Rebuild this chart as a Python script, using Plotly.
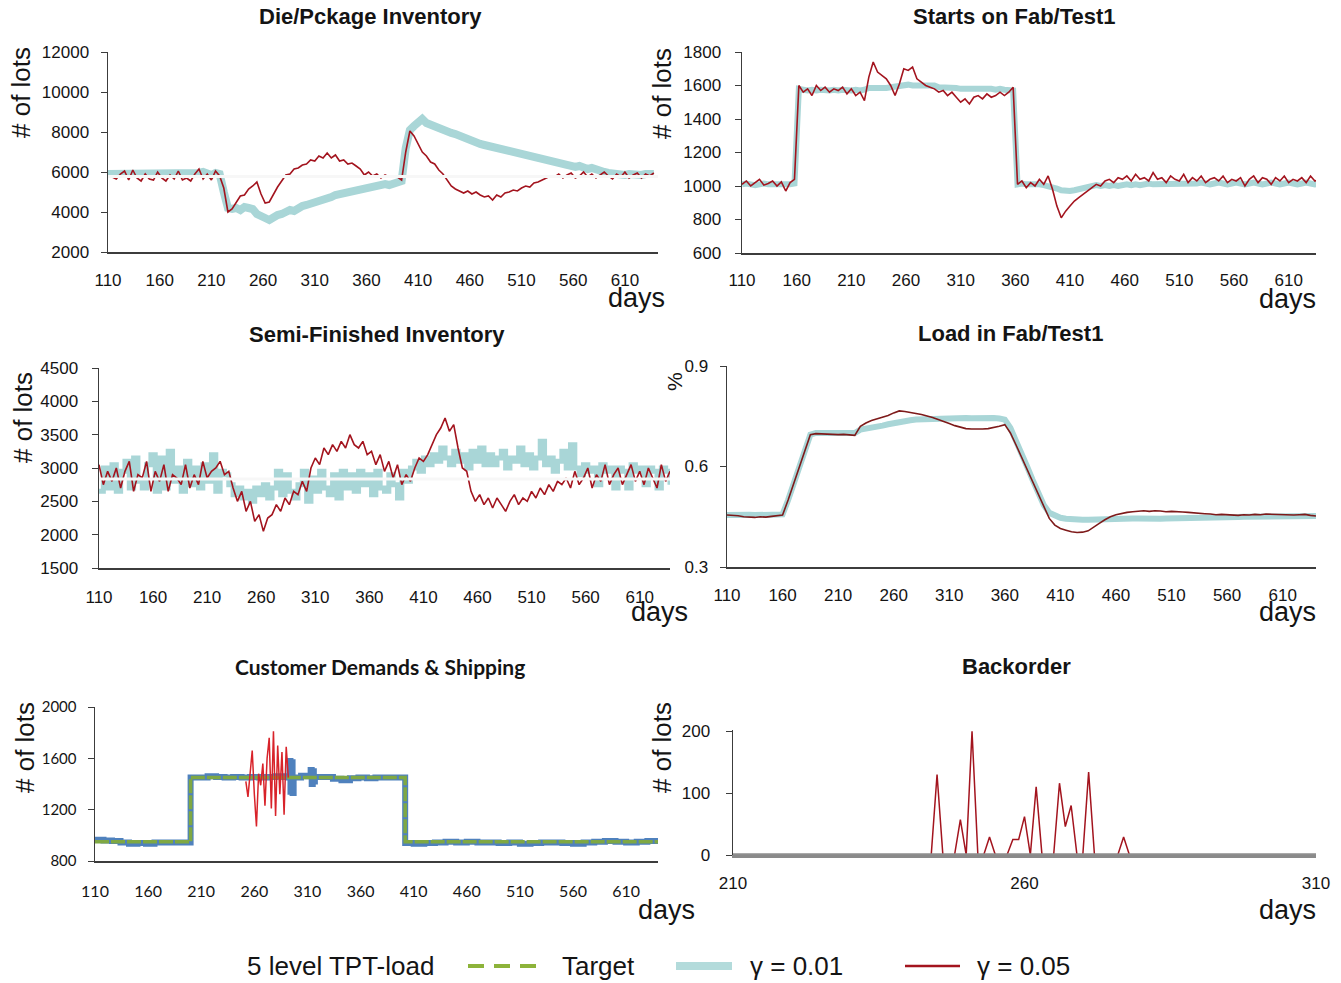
import plotly.graph_objects as go

W, H = 1341, 983

# ---------------- data ----------------
DAYS4 = list(range(110, 641, 4))   # 133 samples, used by the noisy series
DAYS5 = list(range(110, 641, 5))   # 107 samples, used by the load series
BO_DAYS = list(range(210, 311))    # backorder window

# Die / Package inventory (# of lots)
die_g001 = [
    5900, 5900, 5850, 5900, 5950, 5900, 5850, 5900, 5950, 5900,   # 110-146
    5900, 5850, 5900, 5950, 5900, 5900, 5850, 5900, 5950, 5900,   # 150-186
    5900, 5850, 5950, 6000, 5900, 5850, 5950, 5900, 5000, 4200,   # 190-226
    4150, 4200, 4100, 4250, 4200, 4150, 3900, 3750, 3700, 3600,   # 230-266
    3750, 3850, 3900, 4000, 4100, 4050, 4200, 4300, 4350, 4400,   # 270-306
    4500, 4550, 4650, 4700, 4750, 4850, 4900, 4950, 5000, 5050,   # 310-346
    5100, 5150, 5200, 5250, 5250, 5300, 5350, 5400, 5350, 5450,   # 350-386
    5500, 5550, 7200, 8100, 8300, 8500, 8650, 8450, 8350, 8300,   # 390-426
    8200, 8100, 8050, 7950, 7900, 7800, 7750, 7650, 7550, 7500,   # 430-466
    7400, 7350, 7300, 7250, 7150, 7200, 7100, 7000, 6950, 6900,   # 470-506
    6850, 6800, 6750, 6700, 6650, 6600, 6550, 6500, 6450, 6400,   # 510-546
    6350, 6400, 6300, 6250, 6300, 6200, 6150, 6200, 6100, 6050,   # 550-586
    6000, 5950, 5900, 5950, 5900, 5850, 5900, 5850, 5900, 5850,   # 590-626
    5900, 5850, 5900,                                             # 630-638
]
die_g005 = [
    5800, 5750, 5650, 5900, 6050, 5600, 6100, 5700, 5550, 5900,
    5650, 5600, 6000, 5700, 5550, 5850, 5650, 6050, 5600, 5700,
    5550, 5900, 6150, 5650, 5900, 5600, 6050, 5800, 5200, 4000,
    4150, 4500, 4800, 4850, 5150, 5300, 5500, 4900, 4450, 4500,
    4900, 5250, 5550, 5850, 5900, 6150, 6200, 6350, 6400, 6600,
    6550, 6800, 6700, 6950, 6700, 6850, 6550, 6600, 6400, 6450,
    6300, 6150, 5850, 6000, 5800, 5900, 5700, 5850, 5750, 5800,
    5750, 5600, 7000, 8050, 7800, 7400, 7000, 6800, 6500, 6400,
    6100, 5900, 5600, 5300, 5150, 5050, 4950, 5050, 4900, 5000,
    4850, 4750, 4800, 4600, 4850, 4750, 4950, 5000, 5100, 5050,
    5200, 5300, 5250, 5450, 5500, 5600, 5700, 5800, 5750, 5900,
    5700, 5850, 5950, 5700, 5800, 6000, 5750, 5900, 5700, 5850,
    6000, 5800, 5650, 5900, 5750, 6000, 5700, 5850, 5950, 5700,
    5900, 5800, 5950,
]
DIE_TARGET = 5780

# Starts on Fab/Test1 (# of lots)
starts_g001 = [
    1010, 1015, 1010, 1005, 1010, 1015, 1010, 1010, 1005, 1010,
    1010, 1010, 1015, 1580, 1575, 1570, 1575, 1570, 1575, 1570,
    1570, 1575, 1570, 1575, 1570, 1570, 1575, 1570, 1575, 1585,
    1585, 1585, 1580, 1585, 1590, 1595, 1600, 1600, 1605, 1600,
    1600, 1600, 1595, 1600, 1600, 1590, 1590, 1585, 1585, 1585,
    1580, 1580, 1585, 1580, 1580, 1585, 1580, 1580, 1575, 1580,
    1575, 1575, 1570, 1010, 1015, 1010, 1010, 1015, 1010, 1005,
    1000, 995, 985, 975, 970, 970, 975, 980, 985, 995,
    1000, 1005, 1000, 1005, 1000, 1005, 1000, 1005, 1010, 1005,
    1010, 1005, 1010, 1015, 1010, 1010, 1015, 1010, 1015, 1010,
    1015, 1010, 1015, 1010, 1015, 1020, 1015, 1010, 1015, 1020,
    1015, 1010, 1015, 1020, 1015, 1010, 1015, 1020, 1015, 1010,
    1015, 1020, 1015, 1010, 1015, 1020, 1015, 1010, 1015, 1020,
    1015, 1010, 1015,
]
starts_g005 = [
    1010, 1030, 1000, 1020, 1040, 1005, 1015, 1030, 1000, 1025,
    970, 1020, 1040, 1600, 1560, 1580, 1540, 1600, 1570, 1590,
    1560, 1580, 1570, 1590, 1550, 1580, 1540, 1560, 1510, 1650,
    1740, 1680, 1660, 1640, 1600, 1540, 1610, 1700, 1690, 1710,
    1640, 1620, 1600, 1590, 1580, 1560, 1570, 1540, 1560, 1530,
    1500, 1520, 1490, 1530, 1540, 1520, 1550, 1530, 1540, 1560,
    1540, 1560, 1590, 1010, 1030, 990, 1020, 1000, 1040, 1010,
    1060, 980, 880, 810, 850, 880, 910, 930, 950, 970,
    990, 1010, 1000, 1030, 1040, 1020, 1050, 1040, 1060, 1030,
    1070, 1040, 1050, 1030, 1080, 1040, 1050, 1020, 1060, 1040,
    1030, 1070, 1020, 1050, 1030, 1060, 1020, 1040, 1050, 1030,
    1060, 1020, 1040, 1030, 1050, 1000, 1040, 1060, 1020, 1050,
    1040, 1010, 1050, 1030, 1060, 1020, 1040, 1030, 1050, 1020,
    1060, 1030, 1040,
]

# Semi-finished inventory (# of lots)
semi_g001 = [
    2650, 3000, 2700, 3050, 2650, 2950, 3100, 2700, 3150, 2800,
    2700, 3050, 3200, 2650, 3150, 2700, 3250, 2800, 3000, 2650,
    3100, 2750, 3000, 2700, 3050, 2800, 3200, 2650, 2950, 2900,
    2750, 2600, 2700, 2550, 2650, 2500, 2700, 2600, 2750, 2550,
    2700, 2950, 2600, 2900, 2650, 2550, 2750, 2950, 2500, 2850,
    2650, 2950, 2700, 2600, 2900, 2550, 2950, 2700, 2900, 2650,
    2950, 2750, 2900, 2600, 2950, 2700, 2650, 2900, 2750, 2550,
    2950, 2800, 3000, 3100, 2950, 3150, 3050, 3200, 3100, 3300,
    3150, 3050, 3250, 3100, 3200, 3000, 3250, 3100, 3300, 3050,
    3200, 3050, 3150, 3250, 3000, 3150, 3100, 3300, 3050, 3200,
    3000, 3150, 3400, 3050, 3150, 2950, 3100, 3250, 3000, 3350,
    3000, 2900, 3050, 2950, 3000, 2750, 3050, 2950, 3000, 2700,
    3000, 2950, 2700, 3050, 2950, 3000, 2750, 3000, 2950, 2700,
    3000, 2950, 2750,
]
semi_g005 = [
    3050, 2750, 2950, 2800, 3000, 2700, 2950, 3100, 2650, 2900,
    2850, 3100, 2650, 2950, 2800, 3050, 2650, 2900, 2850, 2750,
    3050, 2700, 2900, 2750, 3100, 2850, 2950, 3000, 3100, 2900,
    2950, 2700, 2500, 2650, 2350, 2500, 2200, 2300, 2050, 2250,
    2300, 2450, 2350, 2550, 2450, 2650, 2600, 2800, 2650, 3000,
    3150, 3050, 3300, 3200, 3350, 3250, 3400, 3300, 3500, 3350,
    3300, 3400, 3200, 3250, 3050, 3200, 2950, 3100, 2850, 3050,
    2750, 2900, 2800, 3000, 3150, 3100, 3200, 3350, 3500, 3600,
    3750, 3550, 3650, 3300, 3000, 2950, 2650, 2500, 2600, 2450,
    2550, 2400, 2550, 2450, 2350, 2500, 2600, 2450, 2550, 2500,
    2650, 2550, 2700, 2600, 2750, 2650, 2800, 2750, 2850, 2700,
    2950, 2750, 2850, 3000, 2700, 2900, 2800, 3050, 2750, 2900,
    3000, 2750, 2900, 3050, 2800, 2950, 2750, 3000, 2850, 2700,
    3050, 2800, 2950,
]
SEMI_TARGET = 2835

# Load in Fab/Test1 (fraction)
load_g001 = [
    0.455, 0.456, 0.455, 0.455, 0.456, 0.455, 0.455, 0.456, 0.455, 0.456,   # 110-155
    0.457, 0.500, 0.550, 0.600, 0.650, 0.695, 0.700, 0.700, 0.701, 0.700,   # 160-205
    0.700, 0.701, 0.700, 0.700, 0.710, 0.712, 0.716, 0.718, 0.722, 0.726,   # 210-255
    0.730, 0.733, 0.736, 0.738, 0.740, 0.741, 0.742, 0.743, 0.744, 0.744,   # 260-305
    0.745, 0.745, 0.745, 0.745, 0.744, 0.745, 0.745, 0.744, 0.745, 0.743,   # 310-355
    0.740, 0.715, 0.680, 0.640, 0.600, 0.560, 0.520, 0.485, 0.462, 0.452,   # 360-405
    0.447, 0.444, 0.442, 0.441, 0.441, 0.441, 0.442, 0.442, 0.443, 0.443,   # 410-455
    0.444, 0.444, 0.444, 0.445, 0.445, 0.444, 0.444, 0.445, 0.444, 0.445,   # 460-505
    0.445, 0.445, 0.446, 0.446, 0.446, 0.447, 0.447, 0.447, 0.448, 0.448,   # 510-555
    0.448, 0.449, 0.449, 0.450, 0.450, 0.450, 0.450, 0.451, 0.451, 0.451,   # 560-605
    0.451, 0.451, 0.452, 0.452, 0.452, 0.452, 0.452,                        # 610-640
]
load_g005 = [
    0.455, 0.455, 0.453, 0.450, 0.449, 0.448, 0.450, 0.449, 0.451, 0.453,
    0.455, 0.500, 0.550, 0.600, 0.650, 0.695, 0.698, 0.697, 0.696, 0.697,
    0.695, 0.696, 0.694, 0.693, 0.720, 0.730, 0.737, 0.742, 0.746, 0.752,
    0.760, 0.766, 0.764, 0.760, 0.758, 0.755, 0.751, 0.746, 0.740, 0.733,
    0.728, 0.722, 0.717, 0.713, 0.712, 0.711, 0.712, 0.713, 0.716, 0.720,
    0.725, 0.700, 0.665, 0.628, 0.590, 0.553, 0.515, 0.478, 0.445, 0.425,
    0.415, 0.410, 0.405, 0.403, 0.404, 0.408, 0.418, 0.430, 0.441, 0.450,
    0.456, 0.460, 0.463, 0.465, 0.467, 0.468, 0.466, 0.468, 0.467, 0.465,
    0.466, 0.466, 0.464, 0.463, 0.461, 0.460, 0.459, 0.458, 0.456, 0.457,
    0.456, 0.455, 0.454, 0.456, 0.455, 0.457, 0.456, 0.458, 0.457, 0.456,
    0.457, 0.456, 0.455, 0.456, 0.457, 0.454, 0.452,
]

# Customer demands & shipping (# of lots)
demand_days = [110, 200, 402, 640]
demand_lvl = [950, 1450, 950, 950]

ship_days = [110, 118, 126, 134, 142, 150, 158, 166, 174, 182, 190, 200, 208, 216,
             224, 232, 240, 248, 256, 264, 272, 280, 288, 292, 293, 294, 295, 296,
             297, 304, 310, 313, 314, 315, 316, 317, 326, 334, 342, 350, 358, 366,
             374, 382, 390, 402, 410, 420, 430, 440, 450, 460, 470, 480, 490, 500,
             510, 520, 530, 540, 550, 560, 570, 580, 590, 600, 610, 620, 630, 640]
ship_g001 = [965, 960, 955, 945, 935, 940, 935, 945, 945, 945, 945, 1450, 1450, 1460,
             1455, 1450, 1455, 1450, 1455, 1450, 1455, 1460, 1455, 1450, 1580, 1340, 1570, 1330,
             1450, 1465, 1460, 1510, 1400, 1500, 1420, 1455, 1455, 1440, 1430, 1445, 1450, 1445,
             1450, 1450, 1450, 940, 935, 940, 945, 950, 945, 950, 945, 945, 940, 945,
             935, 940, 945, 945, 940, 935, 945, 950, 955, 950, 945, 950, 955, 960]

ship005_days = list(range(252, 293, 2))
ship_g005 = [1420, 1300, 1480, 1660, 1320, 1070, 1480, 1390, 1560, 1230, 1600,
             1760, 1210, 1810, 1150, 1700, 1320, 1650, 1160, 1690, 1450]

# Backorder (# of lots), days 210-310
backorder_g005 = [
    0, 0, 0, 0, 0, 0, 0, 0, 0, 0,           # 210-219
    0, 0, 0, 0, 0, 0, 0, 0, 0, 0,           # 220-229
    0, 0, 0, 0, 0, 0, 0, 0, 0, 0,           # 230-239
    0, 0, 0, 0, 0, 130, 0, 0, 0, 57,        # 240-249
    0, 200, 0, 0, 29, 0, 0, 0, 25, 25,      # 250-259
    62, 0, 110, 0, 0, 0, 116, 46, 80, 0,    # 260-269
    0, 134, 0, 0, 0, 0, 0, 29, 0, 0,        # 270-279
    0, 0, 0, 0, 0, 0, 0, 0, 0, 0,           # 280-289
    0, 0, 0, 0, 0, 0, 0, 0, 0, 0,           # 290-299
    0, 0, 0, 0, 0, 0, 0, 0, 0, 0,           # 300-309
    0,                                      # 310
]
# gamma = 0.01 never built a backorder in this window
backorder_g001_days = [210, 310]
backorder_g001 = [0, 0]

TICKS_MAIN = list(range(110, 611, 50))
TICKS_BO = [210, 260, 310]

# ---------------- styling ----------------
CYAN = "#A9D6D7"
RED = "#A3141E"
RED_BRIGHT = "#D8232A"
BLUE = "#4F81BD"
GREEN = "#7FA843"
TXT = "#141414"
AXC = "#3C3C3C"
FONT = "Liberation Sans, Arial, sans-serif"
FONT_C = "Lato, Liberation Sans, sans-serif"


def xd(x0, x1):
    return [x0 / W, x1 / W]


def yd(y0, y1):
    return [1 - y1 / H, 1 - y0 / H]


fig = go.Figure()


def line(xs, ys, axis, color, width, dash=None, shape="linear", name=""):
    n = min(len(xs), len(ys))
    fig.add_trace(go.Scatter(
        x=xs[:n], y=ys[:n], mode="lines", name=name, showlegend=False,
        xaxis="x" + axis, yaxis="y" + axis, hoverinfo="skip",
        line=dict(color=color, width=width, dash=dash, shape=shape),
    ))


# panel 1: die/package inventory
line(DAYS4, die_g001, "", CYAN, 8, name="γ = 0.01")
line(DAYS4, die_g005, "", RED, 1.6, name="γ = 0.05")
line([110, 642], [DIE_TARGET, DIE_TARGET], "", "#F7F7F7", 3)
# panel 2: starts
line(DAYS4, starts_g001, "2", CYAN, 6)
line(DAYS4, starts_g005, "2", RED, 1.6)
# panel 3: semi-finished
line(DAYS4, semi_g001, "3", CYAN, 5, shape="hv")
line(DAYS4, semi_g005, "3", RED, 1.6)
line([110, 640], [SEMI_TARGET, SEMI_TARGET], "3", "#F7F7F7", 3)
# panel 4: load
line(DAYS5, load_g001, "4", CYAN, 6)
line(DAYS5, load_g005, "4", "#7E1A1A", 1.6)
# panel 5: demand & shipping
line(ship_days, ship_g001, "5", BLUE, 6, shape="hv")
line(demand_days, demand_lvl, "5", GREEN, 3.5, dash="14px,2px", shape="hv")
line(ship005_days, ship_g005, "5", RED_BRIGHT, 1.5)
# panel 6: backorder
line(BO_DAYS, backorder_g005, "6", RED, 1.5)
line(backorder_g001_days, backorder_g001, "6", "#8E8E8E", 3.5)


def xaxis(dom, rng, ticks, anchor, standoff, font=FONT, size=17, lc=AXC, lw=1.5):
    return dict(domain=dom, range=rng, tickvals=ticks, anchor=anchor,
                showline=True, linecolor=lc, linewidth=lw, ticks="",
                showgrid=False, zeroline=False, ticklabelstandoff=standoff,
                layer="above traces", automargin=False,
                tickfont=dict(family=font, size=size, color=TXT))


def yaxis(dom, rng, ticks, anchor, standoff, font=FONT, size=17, fmt="d"):
    return dict(domain=dom, range=rng, tickvals=ticks, anchor=anchor,
                showline=True, linecolor=AXC, linewidth=1.5, ticks="outside",
                ticklen=6, tickcolor=AXC, showgrid=False, zeroline=False,
                ticklabelstandoff=standoff, tickformat=fmt, automargin=False,
                tickfont=dict(family=font, size=size, color=TXT))


fig.update_layout(
    width=W, height=H,
    margin=dict(l=0, r=0, t=0, b=0, pad=0, autoexpand=False),
    paper_bgcolor="white", plot_bgcolor="white", showlegend=False,
    xaxis=xaxis(xd(108, 658), [110, 642], TICKS_MAIN, "y", 12),
    yaxis=yaxis(yd(52, 252), [2000, 12000], list(range(2000, 12001, 2000)), "x", 8),
    xaxis2=xaxis(xd(742, 1316), [110, 635], TICKS_MAIN, "y2", 11),
    yaxis2=yaxis(yd(52, 253), [600, 1800], list(range(600, 1801, 200)), "x2", 10),
    xaxis3=xaxis(xd(99, 670), [110, 638], TICKS_MAIN, "y3", 13),
    yaxis3=yaxis(yd(368, 568), [1500, 4500], list(range(1500, 4501, 500)), "x3", 10),
    xaxis4=xaxis(xd(727, 1316), [110, 640], TICKS_MAIN, "y4", 12),
    yaxis4=yaxis(yd(366, 567), [0.3, 0.9], [0.3, 0.6, 0.9], "x4", 8, fmt=".1f"),
    xaxis5=xaxis(xd(95, 658), [110, 640], TICKS_MAIN, "y5", 15, font=FONT_C, size=16),
    yaxis5=yaxis(yd(707, 861), [800, 2000], [800, 1200, 1600, 2000], "x5", 8, font=FONT_C, size=15),
    xaxis6=xaxis(xd(733, 1316), [210, 310], TICKS_BO, "y6", 11, lc="#8A8A8A", lw=3),
    yaxis6=yaxis(yd(730, 855), [0, 202], [0, 100, 200], "x6", 12),
)


def ann(text, px, py, size, bold=False, xanchor="center", angle=0, family=FONT):
    fig.add_annotation(
        text=f"<b>{text}</b>" if bold else text, x=px / W, y=1 - py / H,
        xref="paper", yref="paper", showarrow=False, xanchor=xanchor,
        yanchor="middle", textangle=angle,
        font=dict(size=size, family=family, color=TXT))


# titles
ann("Die/Pckage Inventory", 370, 17, 22, bold=True)
ann("Starts on Fab/Test1", 1014, 17, 22, bold=True)
ann("Semi-Finished Inventory", 377, 334, 22, bold=True)
ann("Load in Fab/Test1", 1011, 333, 22, bold=True)
ann("Customer Demands &amp; Shipping", 380, 666, 21, bold=True, family=FONT_C)
ann("Backorder", 1016, 666, 22, bold=True)

# y-axis titles
ann("# of lots", 21, 93, 26, angle=-90)
ann("# of lots", 662, 94, 26, angle=-90)
ann("# of lots", 23, 418, 26, angle=-90)
ann("%", 674, 382, 21, angle=-90)
ann("# of lots", 25, 748, 26, angle=-90)
ann("# of lots", 662, 748, 26, angle=-90)

# "days" labels
ann("days", 667, 298, 27, xanchor="right")
ann("days", 1318, 299, 27, xanchor="right")
ann("days", 690, 612, 27, xanchor="right")
ann("days", 1318, 612, 27, xanchor="right")
ann("days", 697, 910, 27, xanchor="right")
ann("days", 1318, 910, 27, xanchor="right")

# legend (bottom)
LEG_Y = 966
ann("5 level TPT-load", 245, LEG_Y, 26, xanchor="left")
fig.add_shape(type="line", xref="paper", yref="paper", x0=468 / W, x1=543 / W,
              y0=1 - LEG_Y / H, y1=1 - LEG_Y / H,
              line=dict(color="#8DB33A", width=4, dash="16px,10px"))
ann("Target", 560, LEG_Y, 26, xanchor="left")
fig.add_shape(type="line", xref="paper", yref="paper", x0=676 / W, x1=732 / W,
              y0=1 - LEG_Y / H, y1=1 - LEG_Y / H,
              line=dict(color="#B3DBDB", width=8))
ann("γ = 0.01", 748, LEG_Y, 26, xanchor="left")
fig.add_shape(type="line", xref="paper", yref="paper", x0=905 / W, x1=960 / W,
              y0=1 - LEG_Y / H, y1=1 - LEG_Y / H,
              line=dict(color=RED, width=2.5))
ann("γ = 0.05", 975, LEG_Y, 26, xanchor="left")

fig.write_html(
    "out.html",
    config={"displayModeBar": False, "staticPlot": True},
    post_script=("document.body.style.margin='0px';"
                 "document.body.style.padding='0px';"
                 "document.documentElement.style.overflow='hidden';"),
)
